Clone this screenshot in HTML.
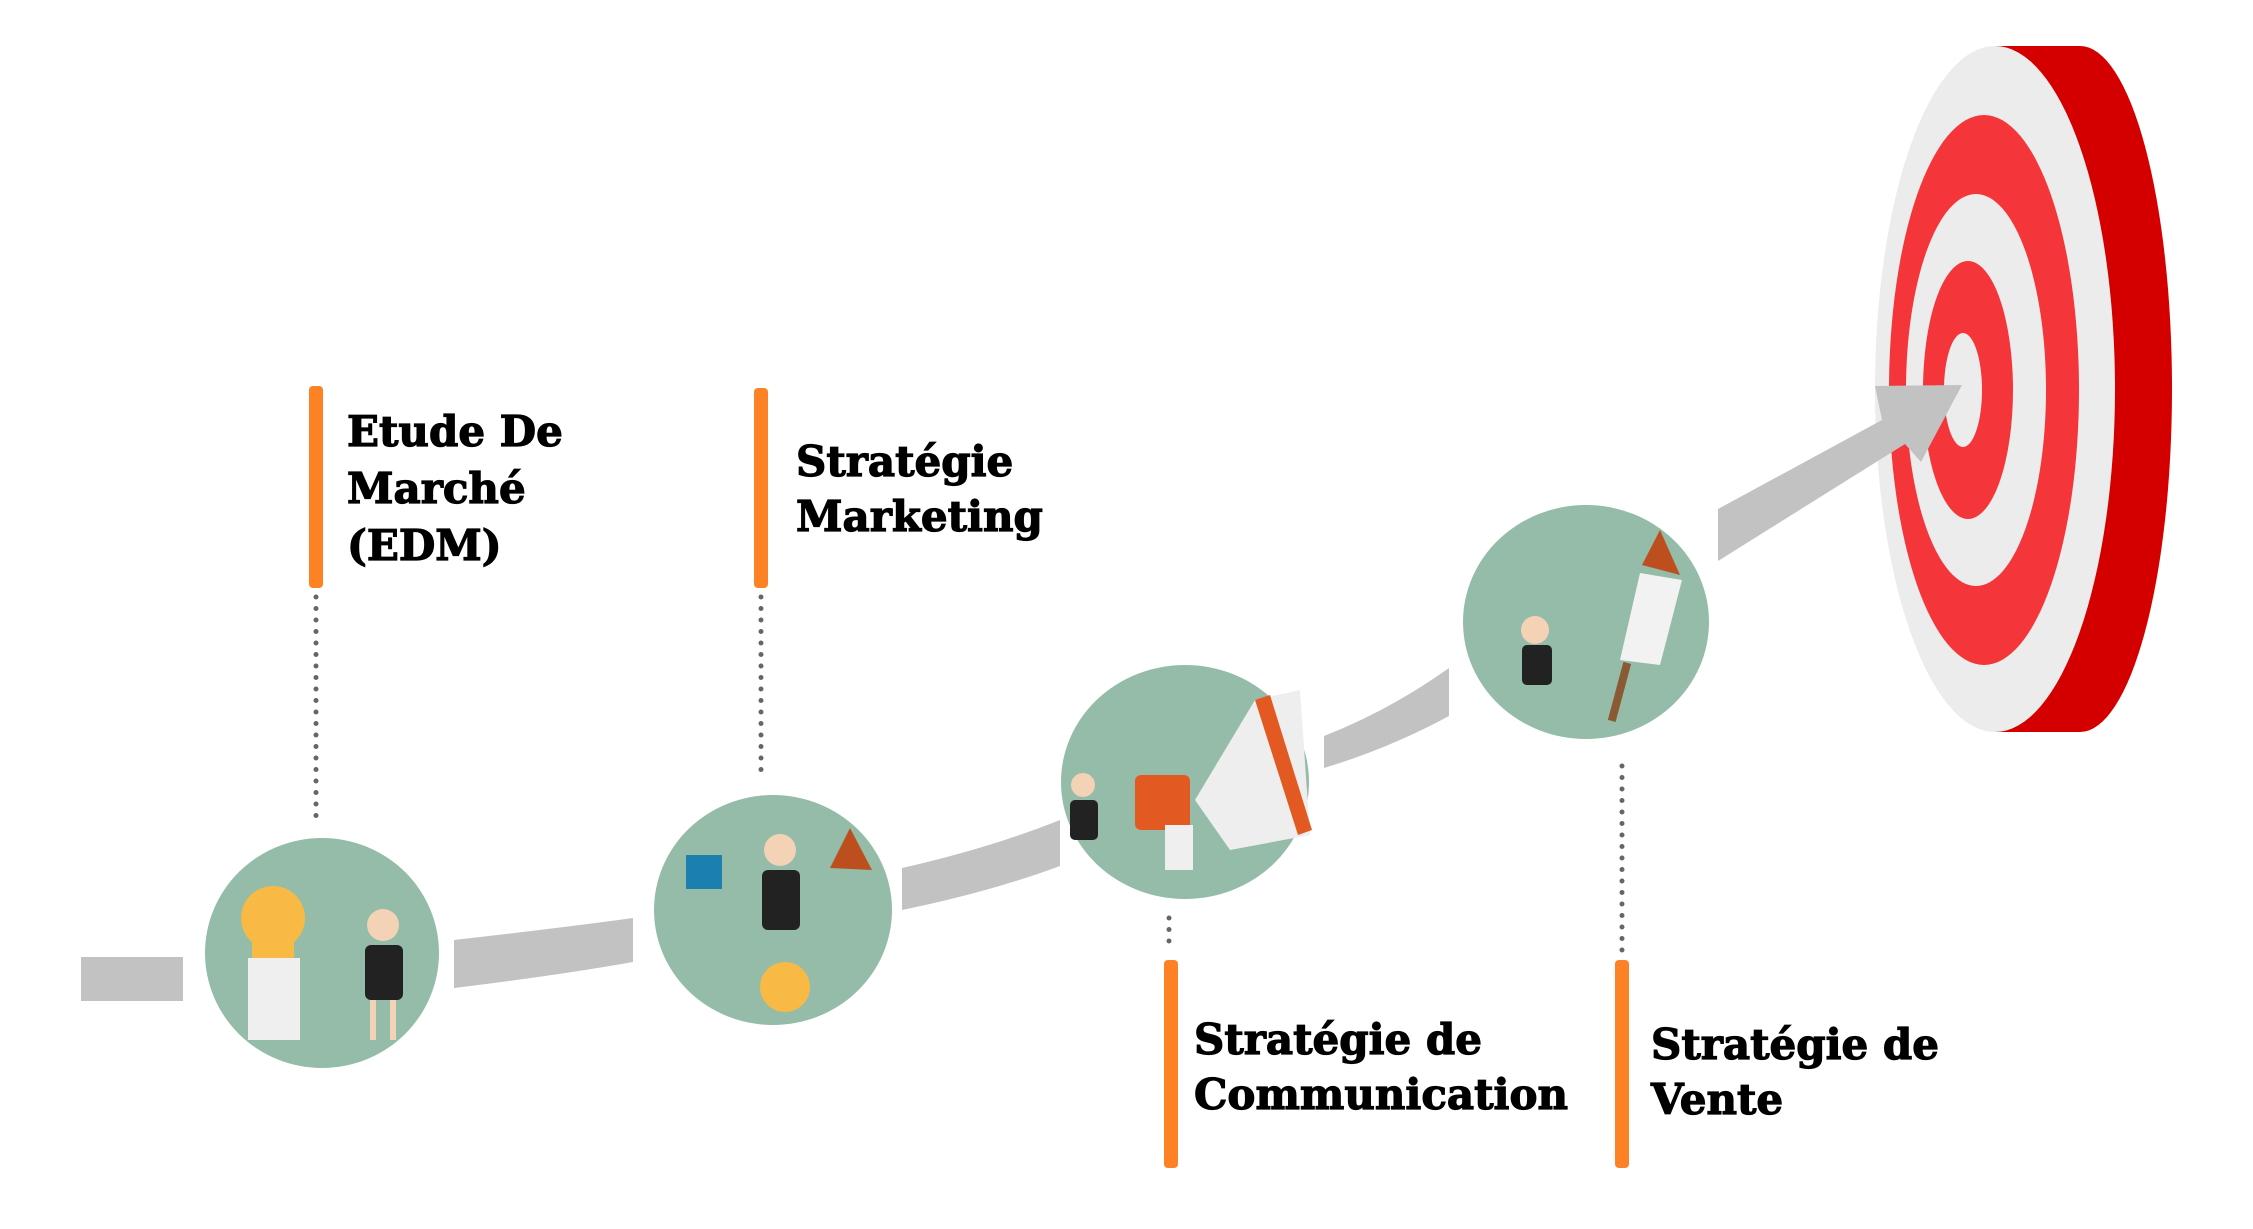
<!DOCTYPE html>
<html><head><meta charset="utf-8"><style>
html,body{margin:0;padding:0;background:#fff}
svg{display:block}
text{font-family:"DejaVu Serif","Liberation Serif",serif;font-weight:bold;fill:#000;stroke:#000;stroke-width:1.2px}
</style></head><body>
<svg width="2253" height="1229" viewBox="0 0 2253 1229" xmlns="http://www.w3.org/2000/svg">
<!-- path segments -->
<g fill="#c2c2c2">
<rect x="81" y="957" width="102" height="44"/>
<path d="M454,940 Q560,928 633,918 L633,962 Q560,975 454,988 Z"/>
<path d="M902,868 Q990,848 1060,820 L1060,866 Q990,892 902,910 Z"/>
<path d="M1324,736 Q1390,710 1449,668 L1449,716 Q1390,748 1324,768 Z"/>
</g>
<!-- target -->
<g>
<rect x="1995" y="46" width="85" height="686" fill="#d40000"/>
<ellipse cx="2080" cy="389" rx="92" ry="343" fill="#d40000"/>
<ellipse cx="1995" cy="389" rx="120" ry="343" fill="#ececec"/>
<ellipse cx="1984" cy="390" rx="95" ry="275" fill="#f4363b"/>
<ellipse cx="1976" cy="390" rx="70" ry="196" fill="#ececec"/>
<ellipse cx="1968" cy="390" rx="45" ry="129" fill="#f4363b"/>
<ellipse cx="1963" cy="390" rx="19" ry="57" fill="#ececec"/>
</g>
<path fill="#c2c2c2" d="M1718,509 L1882,420 L1875,386 L1962,385 L1921,462 L1905,444 L1718,561 Z"/>
<!-- circles -->
<g fill="#95bca8">
<ellipse cx="322" cy="953" rx="117" ry="115"/>
<ellipse cx="773" cy="910" rx="119" ry="115"/>
<ellipse cx="1185" cy="782" rx="124" ry="117"/>
<ellipse cx="1586" cy="622" rx="123" ry="117"/>
</g>
<g>
<circle cx="273" cy="918" r="32" fill="#f8b945"/>
<rect x="252" y="940" width="42" height="20" fill="#f8b945"/>
<rect x="248" y="958" width="52" height="82" fill="#efefef"/>
<circle cx="383" cy="925" r="16" fill="#f3d2b5"/><rect x="365" y="945" width="38" height="55" rx="6" fill="#222"/>
<rect x="370" y="1000" width="6" height="40" fill="#f3d2b5"/><rect x="390" y="1000" width="6" height="40" fill="#f3d2b5"/>
<circle cx="780" cy="850" r="16" fill="#f3d2b5"/><rect x="762" y="870" width="38" height="60" rx="6" fill="#222"/>
<rect x="686" y="855" width="36" height="34" fill="#1b7fb0"/>
<polygon points="850,828 872,870 830,868" fill="#bd4f1f"/>
<circle cx="785" cy="987" r="25" fill="#f8b945"/>
<polygon points="1195,800 1255,700 1300,690 1310,835 1230,850" fill="#eeeeee"/>
<polygon points="1255,700 1270,695 1312,830 1298,835" fill="#e25a22"/>
<rect x="1135" y="775" width="55" height="55" rx="6" fill="#e25a22"/>
<rect x="1165" y="825" width="28" height="45" fill="#efefef"/>
<circle cx="1083" cy="785" r="12" fill="#f3d2b5"/><rect x="1070" y="800" width="28" height="40" rx="5" fill="#222"/>
<polygon points="1642,565 1660,530 1680,575" fill="#bd4f1f"/>
<polygon points="1640,573 1682,580 1660,665 1620,660" fill="#f2f2f2"/>
<rect x="1616" y="662" width="8" height="60" fill="#8a5a35" transform="rotate(15 1620 690)"/>
<circle cx="1535" cy="630" r="14" fill="#f3d2b5"/><rect x="1522" y="645" width="30" height="40" rx="5" fill="#222"/>
</g>
<g fill="#fd8125">
<rect x="309" y="386" width="14" height="202" rx="4"/>
<rect x="754" y="388" width="14" height="200" rx="4"/>
<rect x="1164" y="960" width="14" height="208" rx="4"/>
<rect x="1615" y="960" width="14" height="208" rx="4"/>
</g>
<g stroke="#666" stroke-width="5" stroke-linecap="round" stroke-dasharray="0 11.5" fill="none">
<line x1="316" y1="597" x2="316" y2="826"/>
<line x1="761" y1="597" x2="761" y2="780"/>
<line x1="1169" y1="918" x2="1169" y2="951"/>
<line x1="1622" y1="766" x2="1622" y2="952"/>
</g>
<g font-size="42">
<text x="347" y="446">Etude De</text>
<text x="347" y="503">Marché</text>
<text x="347" y="560">(EDM)</text>
<text x="796" y="476">Stratégie</text>
<text x="796" y="531">Marketing</text>
<text x="1194" y="1054">Stratégie de</text>
<text x="1194" y="1109">Communication</text>
<text x="1651" y="1059">Stratégie de</text>
<text x="1651" y="1114">Vente</text>
</g>
</svg>
</body></html>
